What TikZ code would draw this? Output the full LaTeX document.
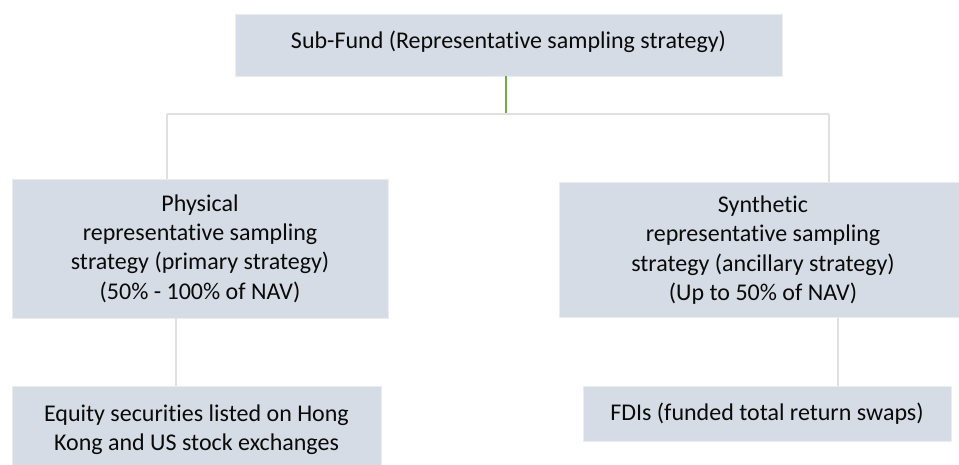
\documentclass[tikz,border=0pt]{standalone}
\usepackage{fontspec}
\setmainfont{Carlito}[Ligatures={NoCommon}]
\definecolor{boxfill}{RGB}{214,220,229}
\definecolor{boxedge}{RGB}{234,236,240}
\definecolor{linkgray}{RGB}{224,224,224}
\definecolor{linkgreen}{RGB}{112,173,71}
\definecolor{txt}{RGB}{10,10,10}
\tikzset{
  fundbox/.style={fill=boxfill, draw=boxedge, line width=0.8pt, inner sep=0pt,
    align=center, text=txt, font=\fontsize{24}{29.3}\selectfont},
  link/.style={draw=linkgray, line width=1.6pt},
  mainlink/.style={draw=linkgreen, line width=1.8pt}
}
\begin{document}
\begin{tikzpicture}[x=1pt,y=-1pt]
\useasboundingbox (0,0) rectangle (959,464);
\clip (0,0) rectangle (959,464);

% boxes
\node[fundbox, minimum width=547pt, minimum height=62pt, text height=18pt, text depth=12pt]
  (fund) at (508.5,45) {Sub-Fund (Representative sampling strategy)};
\node[fundbox, minimum width=376pt, minimum height=139pt]
  (phys) at (200,248.5) {Physical\\representative sampling\\strategy (primary strategy)\\(50\% - 100\% of NAV)};
\node[fundbox, minimum width=408pt, minimum height=135pt]
  (syn) at (763,250) {Synthetic\\representative sampling\\strategy (ancillary strategy)\\(Up to 50\% of NAV)};
\node[fundbox, minimum width=369pt, minimum height=88pt]
  (equity) at (196.5,430) {Equity securities listed on Hong\\Kong and US stock exchanges};
\node[fundbox, minimum width=368pt, minimum height=55pt]
  (fdi) at (767,413.5) {FDIs (funded total return swaps)};

% connector positions
\coordinate (busL) at (167,114);
\coordinate (busM) at (506,114);
\coordinate (busR) at (829,114);
\coordinate (dropL) at (176,0);
\coordinate (dropR) at (838,0);

% connectors
\draw[link] (busL) -- (busR);
\draw[link] (busL) -- (busL |- phys.north);
\draw[link] (busR) -- (busR |- syn.north);
\draw[mainlink] (fund.south -| busM) -- ([yshift=1pt]busM);
\draw[link] (phys.south -| dropL) -- (equity.north -| dropL);
\draw[link] (syn.south -| dropR) -- (fdi.north -| dropR);
\end{tikzpicture}
\end{document}
